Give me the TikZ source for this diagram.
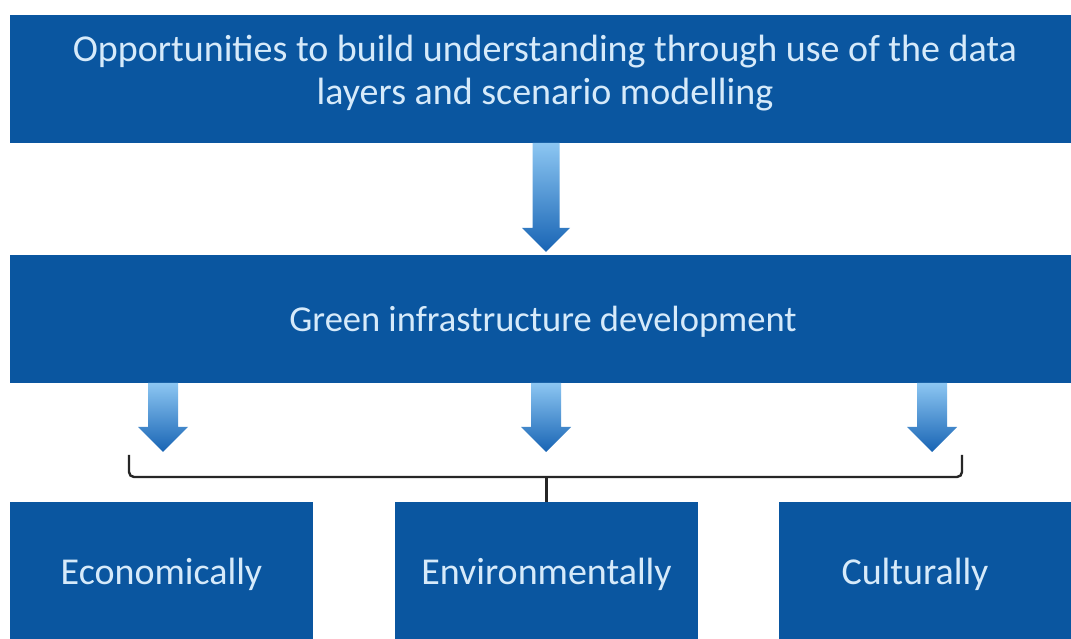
\documentclass[tikz,border=0pt]{standalone}
\usepackage{fontspec}
\setmainfont{Carlito}
\usetikzlibrary{calc}
\definecolor{boxblue}{RGB}{10,86,160}
\definecolor{txtblue}{RGB}{214,234,250}
\definecolor{arrtop}{RGB}{140,198,242}
\definecolor{arrbot}{RGB}{24,100,180}
\newcommand\blockarrow[5]{%
  \shade[top color=arrtop,bottom color=arrbot]
    ($(#1)+(-#3,0)$) -- ($(#1)+(#3,0)$) -- ($(#2)+(#3,#5)$) -- ($(#2)+(#4,#5)$)
    -- (#2) -- ($(#2)+(-#4,#5)$) -- ($(#2)+(-#3,#5)$) -- cycle;}
\begin{document}
\begin{tikzpicture}[x=1pt,y=1pt,
  box/.style={draw=none,fill=boxblue,minimum width=#1,inner sep=0pt,outer sep=0pt},
  txt/.style={text=txtblue,inner sep=0pt,font=\fontsize{38}{43}\selectfont},
  bracket/.style={draw=black!85,line width=2.4pt,rounded corners=5pt}]
\useasboundingbox (0,0) rectangle (1071,639);
\fill[white] (0,0) rectangle (1071,639);
% boxes
\node[box=1061pt,minimum height=128pt] (top) at (540.5,560) {};
\node[box=1061pt,minimum height=128pt] (mid) at (540.5,320) {};
\node[box=303pt,minimum height=137pt] (eco) at (161.5,68.5) {};
\node[box=303pt,minimum height=137pt] (env) at (546.5,68.5) {};
\node[box=292pt,minimum height=137pt] (cul) at (925,68.5) {};
% texts
\node[txt,align=center] (toptext) at (545,566) {Opportunities to build understanding through use of the data\\layers and scenario modelling};
\node[txt,anchor=base,font=\fontsize{36.5}{43}\selectfont] (midtext) at (543,307) {Green infrastructure development};
\node[txt,anchor=base] (ecotext) at (161.5,54) {Economically};
\node[txt,anchor=base] (envtext) at (546.5,54) {Environmentally};
\node[txt,anchor=base] (cultext) at (915,54) {Culturally};
% arrows
\coordinate (a0s) at ($(top.south)+(5.5,0)$);
\coordinate (a0t) at ($(mid.north)+(5.5,3)$);
\blockarrow{a0s}{a0t}{13.5}{24}{24}
\coordinate (a1s) at ($(mid.south)+(-377.5,0)$);
\coordinate (a2s) at ($(mid.south)+(5.5,0)$);
\coordinate (a3s) at ($(mid.south)+(391.5,0)$);
\coordinate (a1t) at ($(a1s)+(0,-69)$);
\coordinate (a2t) at ($(a2s)+(0,-69)$);
\coordinate (a3t) at ($(a3s)+(0,-69)$);
\blockarrow{a1s}{a1t}{15}{25}{25}
\blockarrow{a2s}{a2t}{15}{25}{25}
\blockarrow{a3s}{a3t}{15}{25}{25}
% bracket
\coordinate (bl) at (129,184);
\coordinate (br) at (962,184);
\coordinate (bm) at (env.north |- 0,162);
\draw[bracket] (bl) -- (129,162) -- (962,162) -- (br);
\draw[draw=black!85,line width=2.4pt] (bm) -- (env.north);
\end{tikzpicture}
\end{document}
